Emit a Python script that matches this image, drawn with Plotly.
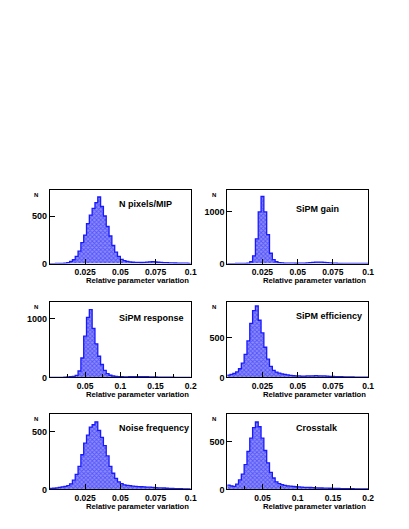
import numpy as np
import plotly.graph_objects as go

# ---------------- data ----------------
titles = ["N pixels/MIP", "SiPM gain", "SiPM response",
          "SiPM efficiency", "Noise frequency", "Crosstalk"]
x_max = [0.1, 0.1, 0.2, 0.1, 0.1, 0.2]
y_max = [771, 1420, 1276, 947, 652, 793]
y_ticks = [[0, 500], [0, 1000], [0, 1000], [0, 500], [0, 500], [0, 500]]

xt_vals_a = [0.025, 0.05, 0.075, 0.1]
xt_text_a = ["0.025", "0.05", "0.075", "0.1"]
xt_vals_b = [0.05, 0.1, 0.15, 0.2]
xt_text_b = ["0.05", "0.1", "0.15", "0.2"]
xt_minor_b = [0.025, 0.075, 0.125, 0.175]

counts_npix = [0, 0, 1, 2, 3, 5, 10, 22, 40, 75, 130, 220, 300, 420, 510, 580, 640, 700,
               600, 500, 390, 290, 190, 120, 75, 45, 30, 22, 17, 14, 12, 12, 11, 13, 15,
               18, 20, 17, 14, 12, 10, 9, 8, 7, 6, 5, 5, 4, 4, 3]
counts_gain = [0, 0, 0, 1, 1, 2, 4, 10, 35, 150, 480, 1000, 1300, 1000, 560, 200, 75, 35,
               20, 14, 10, 8, 7, 7, 6, 7, 8, 10, 13, 17, 22, 26, 28, 26, 22, 17, 12, 9, 7,
               5, 4, 3, 3, 2, 2, 2, 1, 1, 1, 1]
counts_resp = [0, 0, 1, 2, 3, 5, 8, 12, 18, 35, 110, 330, 700, 1020, 1150, 830, 570, 360,
               220, 120, 65, 38, 25, 18, 14, 12, 11, 11, 12, 13, 14, 15, 14, 13, 12, 10, 9,
               8, 7, 6, 5, 5, 4, 4, 3, 3, 3, 2, 2, 2]
counts_eff = [30, 40, 50, 70, 110, 180, 290, 460, 680, 840, 900, 720, 560, 380, 230, 140,
              90, 68, 55, 45, 38, 32, 27, 24, 21, 19, 18, 18, 19, 20, 21, 22, 21, 20, 19,
              17, 15, 13, 11, 10, 9, 8, 7, 6, 6, 5, 5, 4, 4, 4]
counts_noise = [8, 10, 13, 18, 22, 26, 32, 48, 80, 130, 200, 300, 400, 470, 540, 560, 585,
                510, 450, 380, 290, 200, 140, 95, 65, 50, 40, 35, 32, 28, 26, 24, 23, 22,
                20, 19, 17, 16, 14, 13, 12, 10, 9, 8, 7, 7, 6, 5, 5, 4]
counts_xtalk = [45, 38, 32, 55, 100, 160, 260, 400, 540, 650, 710, 660, 540, 410, 280, 180,
                120, 80, 60, 50, 43, 38, 34, 31, 28, 26, 24, 22, 21, 20, 18, 17, 16, 15,
                14, 13, 12, 11, 10, 10, 9, 8, 8, 7, 7, 6, 6, 5, 5, 5]

all_counts = [counts_npix, counts_gain, counts_resp, counts_eff, counts_noise, counts_xtalk]

# ---------------- layout geometry ----------------
W, H = 409, 529
OX, OY = 4.5, 5
col_px = [(47, 190), (227, 370)]
row_px = [(189, 263), (302, 378), (415, 491)]
title_pos = [(0.678, -14), (0.642, -19), (0.718, -16), (0.722, -14.3), (0.739, -14.3), (0.636, -14.3)]

BLUE = "rgb(25,25,255)"
fig = go.Figure()
annotations = []
layout = {}
lab_font = dict(family="Liberation Sans", size=9, color="black", weight="bold")

for i in range(6):
    r, c = divmod(i, 2)
    ax = "" if i == 0 else str(i + 1)
    counts = np.array(all_counts[i], dtype=float)
    edges = np.linspace(0, x_max[i], len(counts) + 1)
    yv = np.append(counts, counts[-1])
    fig.add_trace(go.Scatter(
        x=edges, y=yv, mode="lines", line=dict(color=BLUE, width=1.3, shape="hv"),
        fill="tozeroy",
        fillpattern=dict(shape="x", fgcolor="rgb(30,30,240)", bgcolor="rgb(140,140,255)",
                         size=3, solidity=0.5),
        xaxis="x" + ax, yaxis="y" + ax, showlegend=False, hoverinfo="skip"))

    xd = [(col_px[c][0] - OX) / W, (col_px[c][1] - OX) / W]
    yd = [1 - (row_px[r][1] - OY) / H, 1 - (row_px[r][0] - OY) / H]
    if x_max[i] > 0.15:
        tv, tt = xt_vals_b, xt_text_b
        minor = dict(tickvals=xt_minor_b, ticks="inside", ticklen=3, tickcolor="black",
                     showgrid=False)
    else:
        tv, tt = xt_vals_a, xt_text_a
        minor = None
    xa = dict(domain=xd, range=[0, x_max[i]], anchor="y" + ax, showgrid=False,
              zeroline=False, showline=True, mirror=True, linecolor="black", linewidth=1,
              ticks="inside", ticklen=5, tickcolor="black", tickwidth=1,
              tickmode="array", tickvals=tv, ticktext=tt,
              tickfont=dict(family="Liberation Sans", size=8.5, color="black", weight="bold"))
    if minor:
        xa["minor"] = minor
    ya = dict(domain=yd, range=[0, y_max[i]], anchor="x" + ax, showgrid=False,
              zeroline=False, showline=True, mirror=True, linecolor="black", linewidth=1,
              ticks="inside", ticklen=5, tickcolor="black", tickwidth=1,
              tickmode="array", tickvals=y_ticks[i],
              ticktext=[str(v) for v in y_ticks[i]],
              tickfont=lab_font)
    layout["xaxis" + ax] = xa
    layout["yaxis" + ax] = ya

    xr = "x" + ax + " domain"
    yr = "y" + ax + " domain"
    annotations.append(dict(text=titles[i], xref=xr, yref=yr, x=title_pos[i][0], y=1,
                            xanchor="center", yanchor="middle", yshift=title_pos[i][1],
                            showarrow=False, font=lab_font))
    annotations.append(dict(text="Relative parameter variation", xref=xr, yref=yr,
                            x=1, y=0, xanchor="right", yanchor="middle", yshift=-17,
                            showarrow=False,
                            font=dict(family="Liberation Sans", size=7.7, color="black",
                                      weight="bold")))
    annotations.append(dict(text="N", xref=xr, yref=yr, x=0, y=1, xanchor="center",
                            yanchor="middle", xshift=-13.7, yshift=-5, showarrow=False,
                            font=dict(family="Liberation Sans", size=6, color="black",
                                      weight="bold")))

fig.update_layout(width=W, height=H, margin=dict(l=0, r=0, t=0, b=0),
                  paper_bgcolor="white", plot_bgcolor="white",
                  annotations=annotations, **layout)
fig.write_html("out.html")
